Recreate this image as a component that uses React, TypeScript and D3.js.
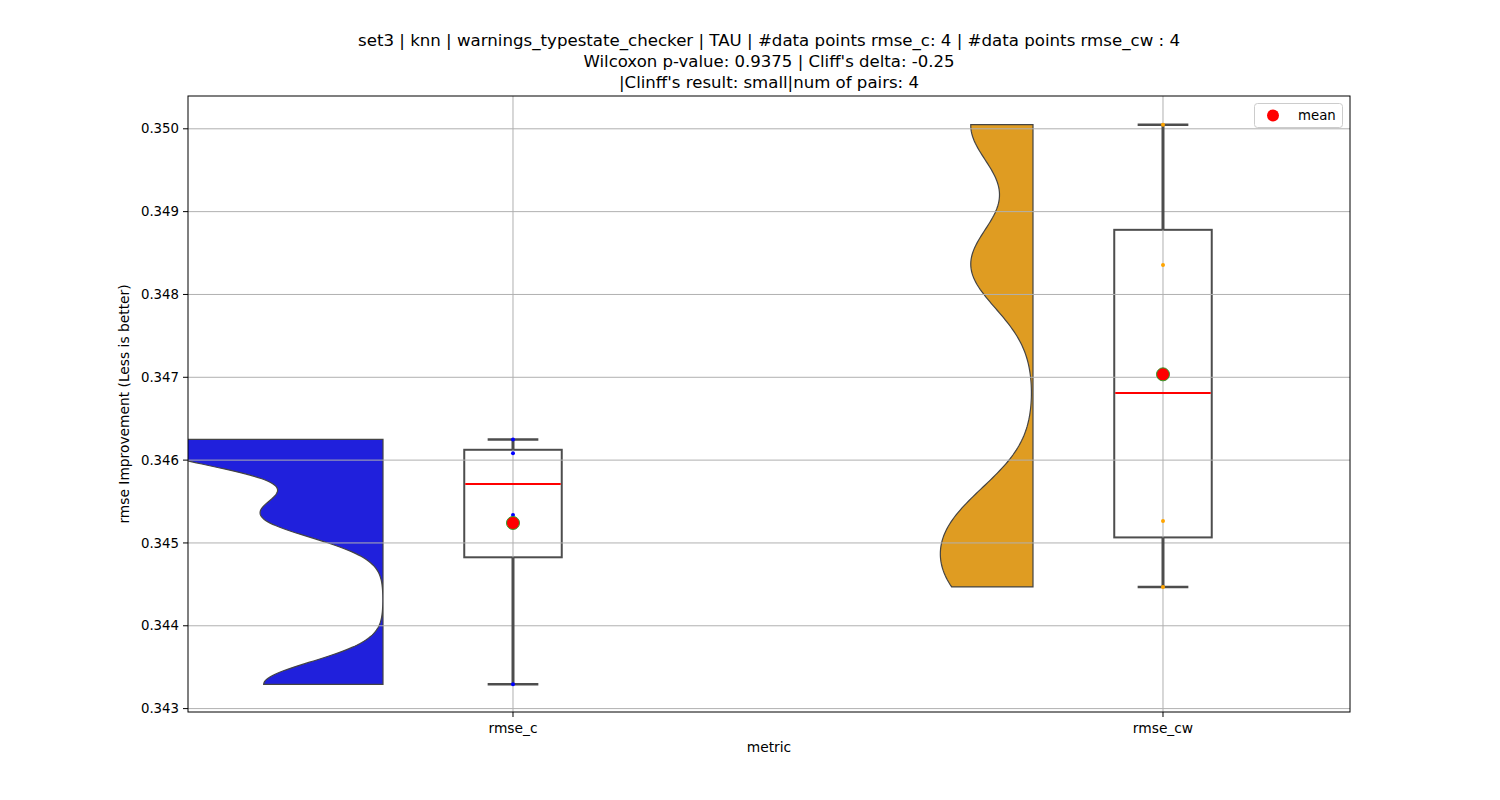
import React from "react";
import * as d3 from "d3";

const categories = ["rmse_c", "rmse_cw"];
const rmseC = [0.34625, 0.346083, 0.345338, 0.343293];
const rmseCW = [0.35005, 0.348357, 0.345266, 0.344469];
const seriesValues = [rmseC, rmseCW];
const violinColors = ["#2020dc", "#df9c22"];
const pointColors = ["#0000ff", "#ffa500"];
const yTicks = [0.343, 0.344, 0.345, 0.346, 0.347, 0.348, 0.349, 0.35];
const titleLines = [
  "set3 | knn | warnings_typestate_checker | TAU | #data points rmse_c: 4 | #data points rmse_cw : 4",
  "Wilcoxon p-value: 0.9375 | Cliff's delta: -0.25",
  "|Clinff's result: small|num of pairs: 4",
];
const titleWidths = [822, 371, 300];

const W = 1500, H = 800;
const L = 188, R = 1350, T = 96, B = 712;
const FONT = "DejaVu Sans, sans-serif";

function kde(values: number[], bwFactor: number, n = 200) {
  const sd = d3.deviation(values) as number;
  const bw = sd * bwFactor;
  const lo = d3.min(values) as number, hi = d3.max(values) as number;
  const pts: [number, number][] = [];
  for (let i = 0; i < n; i++) {
    const y = lo + ((hi - lo) * i) / (n - 1);
    let s = 0;
    for (const v of values) {
      const z = (y - v) / bw;
      s += Math.exp(-0.5 * z * z);
    }
    pts.push([y, s / (values.length * bw * Math.sqrt(2 * Math.PI))]);
  }
  return pts;
}

export default function App() {
  const x = d3.scaleLinear().domain([-0.5, 1.2877]).range([L, R]);
  const y = d3.scaleLinear().domain([0.342959, 0.350396]).range([B, T]);

  const kdes = seriesValues.map((v) => kde(v, 0.2));
  const maxD = d3.max(kdes.flat(), (d) => d[1]) as number;
  const violinMaxHalf = 0.352;
  const violinOffset = -0.2;
  const boxHalf = 0.075;
  const capHalf = 0.039;

  const violinPaths = kdes.map((pts, i) => {
    const c = x(i + violinOffset);
    const w = (d: number) => x(i + violinOffset) - (x(violinMaxHalf) - x(0)) * (d / maxD);
    const curve = pts.map((p) => [w(p[1]), y(p[0])] as [number, number]);
    const path = d3.path();
    path.moveTo(c, y(pts[0][0]));
    curve.forEach((p) => path.lineTo(p[0], p[1]));
    path.lineTo(c, y(pts[pts.length - 1][0]));
    path.closePath();
    return path.toString();
  });

  const stats = seriesValues.map((vals) => {
    const s = [...vals].sort(d3.ascending);
    const q1 = d3.quantileSorted(s, 0.25) as number;
    const med = d3.quantileSorted(s, 0.5) as number;
    const q3 = d3.quantileSorted(s, 0.75) as number;
    const iqr = q3 - q1;
    const lowW = d3.min(s.filter((v) => v >= q1 - 1.5 * iqr)) as number;
    const hiW = d3.max(s.filter((v) => v <= q3 + 1.5 * iqr)) as number;
    return { q1, med, q3, lowW, hiW, mean: d3.mean(s) as number };
  });

  const gridColor = "#b0b0b0";
  const boxColor = "#4d4d4d";

  return (
    <svg width={W} height={H} style={{ position: "absolute", left: 0, top: 0, background: "#fff" }}>
      <defs>
        <clipPath id="plotclip">
          <rect x={L} y={T} width={R - L} height={B - T} />
        </clipPath>
      </defs>
      <rect x={0} y={0} width={W} height={H} fill="#fff" />
      <g clipPath="url(#plotclip)">
        {violinPaths.map((p, i) => (
          <path key={"v" + i} d={p} fill={violinColors[i]} stroke="#444" strokeWidth={1.2} />
        ))}
        {stats.map((s, i) => (
          <rect
            key={"b" + i}
            x={x(i - boxHalf)}
            y={y(s.q3)}
            width={x(i + boxHalf) - x(i - boxHalf)}
            height={y(s.q1) - y(s.q3)}
            fill="#fff"
            stroke={boxColor}
            strokeWidth={2}
          />
        ))}
        {yTicks.map((t) => (
          <line key={"gy" + t} x1={L} x2={R} y1={y(t)} y2={y(t)} stroke={gridColor} strokeWidth={1} />
        ))}
        {categories.map((c, i) => (
          <line key={"gx" + c} x1={x(i)} x2={x(i)} y1={T} y2={B} stroke={gridColor} strokeWidth={1} />
        ))}
        {stats.map((s, i) => (
          <g key={"w" + i}>
            <line x1={x(i)} x2={x(i)} y1={y(s.q1)} y2={y(s.lowW)} stroke={boxColor} strokeWidth={3} />
            <line x1={x(i)} x2={x(i)} y1={y(s.q3)} y2={y(s.hiW)} stroke={boxColor} strokeWidth={3} />
            <line x1={x(i - capHalf)} x2={x(i + capHalf)} y1={y(s.lowW)} y2={y(s.lowW)} stroke={boxColor} strokeWidth={2.5} />
            <line x1={x(i - capHalf)} x2={x(i + capHalf)} y1={y(s.hiW)} y2={y(s.hiW)} stroke={boxColor} strokeWidth={2.5} />
            <line x1={x(i - boxHalf) + 1} x2={x(i + boxHalf) - 1} y1={y(s.med)} y2={y(s.med)} stroke="#ff0000" strokeWidth={2} />
          </g>
        ))}
        {seriesValues.map((vals, i) =>
          vals.map((v, j) => (
            <circle key={"p" + i + "_" + j} cx={x(i)} cy={y(v)} r={2} fill={pointColors[i]} />
          ))
        )}
        {stats.map((s, i) => (
          <circle key={"m" + i} cx={x(i)} cy={y(s.mean)} r={6.5} fill="#ff0000" stroke="#2ca02c" strokeWidth={1} />
        ))}
      </g>
      <rect x={L} y={T} width={R - L} height={B - T} fill="none" stroke="#000" strokeWidth={1} />
      {yTicks.map((t) => (
        <g key={"ty" + t}>
          <line x1={L - 5} x2={L} y1={y(t)} y2={y(t)} stroke="#000" strokeWidth={1} />
          <text x={L - 9} y={y(t)} dy="0.35em" textAnchor="end" fontFamily={FONT} fontSize={13.3} fill="#000">
            {d3.format(".3f")(t)}
          </text>
        </g>
      ))}
      {categories.map((c, i) => (
        <g key={"tx" + c}>
          <line x1={x(i)} x2={x(i)} y1={B} y2={B + 5} stroke="#000" strokeWidth={1} />
          <text x={x(i)} y={B + 21} textAnchor="middle" fontFamily={FONT} fontSize={13.8} fill="#000">
            {c}
          </text>
        </g>
      ))}
      <text x={(L + R) / 2} y={752} textAnchor="middle" fontFamily={FONT} fontSize={13.8} fill="#000">
        metric
      </text>
      <text
        transform={`translate(129, ${(T + B) / 2}) rotate(-90)`}
        textAnchor="middle"
        fontFamily={FONT}
        fontSize={13.8}
        fill="#000"
      >
        rmse Improvement (Less is better)
      </text>
      {titleLines.map((tl, i) => (
        <text
          key={"t" + i}
          x={(L + R) / 2}
          y={46 + i * 21}
          textAnchor="middle"
          fontFamily={FONT}
          fontSize={16.5}
          fill="#000"
          textLength={titleWidths[i]}
          lengthAdjust="spacingAndGlyphs"
        >
          {tl}
        </text>
      ))}
      <rect x={1254.5} y={103.5} width={88} height={24} rx={3} fill="#fff" fillOpacity={0.8} stroke="#cccccc" strokeWidth={1} />
      <circle cx={1273} cy={115.5} r={6} fill="#ff0000" />
      <text x={1298} y={115.5} dy="0.35em" fontFamily={FONT} fontSize={13.3} fill="#000">
        mean
      </text>
    </svg>
  );
}
